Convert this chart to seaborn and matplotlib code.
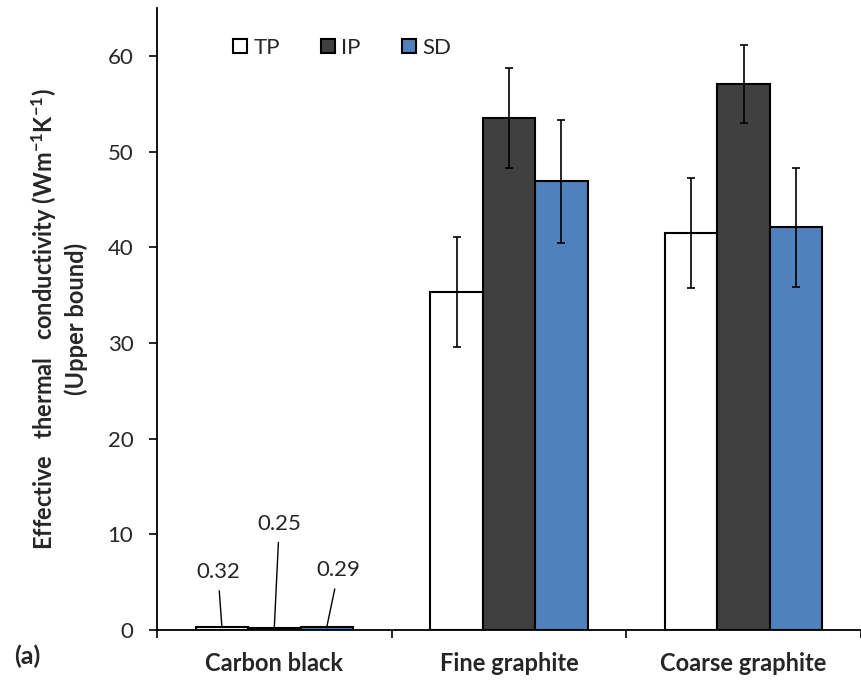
import matplotlib
matplotlib.use("Agg")
import matplotlib.pyplot as plt
from matplotlib.patches import Patch
import pandas as pd
import seaborn as sns

# Effective thermal conductivity (upper bound) per filler and method
categories = ["Carbon black", "Fine graphite", "Coarse graphite"]
methods = ["TP", "IP", "SD"]
tp_values = [0.32, 35.3, 41.5]
ip_values = [0.25, 53.5, 57.1]
sd_values = [0.29, 46.9, 42.1]
tp_errors = [0.0, 5.75, 5.8]
ip_errors = [0.0, 5.25, 4.1]
sd_errors = [0.0, 6.4, 6.2]
yticks = [0, 10, 20, 30, 40, 50, 60]
colors = {"TP": "#FFFFFF", "IP": "#404040", "SD": "#4F81BD"}

values = {"TP": tp_values, "IP": ip_values, "SD": sd_values}
errors = {"TP": tp_errors, "IP": ip_errors, "SD": sd_errors}

rows = []
for m in methods:
    for c, v in zip(categories, values[m]):
        rows.append({"category": c, "method": m, "value": v})
df = pd.DataFrame(rows)

sns.set_theme(style="ticks")
plt.rcParams["font.family"] = ["Lato", "DejaVu Sans"]
plt.rcParams["mathtext.fontset"] = "custom"
plt.rcParams["mathtext.rm"] = "Lato"
plt.rcParams["mathtext.bf"] = "Lato:bold"

fig = plt.figure(figsize=(8.61, 6.82), dpi=100)
ax = fig.add_axes([0.1823, 0.0762, 0.8177, 0.9118])

sns.barplot(data=df, x="category", y="value", hue="method",
            order=categories, hue_order=methods, palette=colors,
            saturation=1, width=0.67, edgecolor="black", linewidth=1.5,
            errorbar=None, legend=False, ax=ax)

# error bars on each bar, placed from the drawn patches
for m, container in zip(methods, ax.containers):
    for bar, err in zip(container, errors[m]):
        if err <= 0:
            continue
        xc = bar.get_x() + bar.get_width() / 2
        ax.errorbar(xc, bar.get_height(), yerr=err, fmt="none",
                    ecolor="black", elinewidth=1.2, capsize=2.8,
                    capthick=1.2, zorder=5)

# leader-line labels for the tiny carbon black values
offsets = {"TP": (-4, 55), "IP": (5, 104), "SD": (12, 57)}
for m, container in zip(methods, ax.containers):
    bar = container[0]
    xc = bar.get_x() + bar.get_width() / 2
    ax.annotate(f"{values[m][0]:.2f}", xy=(xc, bar.get_height()),
                xytext=offsets[m], textcoords="offset pixels",
                ha="center", va="center", fontsize=16,
                arrowprops=dict(arrowstyle="-", color="black", lw=1.0,
                                shrinkA=4, shrinkB=0))

ax.set_xlim(-0.5, 2.5)
ax.set_ylim(0, 65)
ax.set_yticks(yticks)
ax.tick_params(axis="y", labelsize=16, length=6, width=1.2, color="black",
               direction="out", pad=11)
ax.tick_params(axis="x", which="major", length=0, pad=16)
ax.set_xticks([-0.5, 0.5, 1.5, 2.5], minor=True)
ax.tick_params(axis="x", which="minor", length=6, width=1.2, color="black",
               direction="out")
for lbl in ax.get_xticklabels():
    lbl.set_fontweight("bold")
    lbl.set_fontsize(17)

ax.set_xlabel("")
ax.set_ylabel("Effective   thermal   conductivity (Wm$\\mathbf{^{-1}}$K$\\mathbf{^{-1}}$)\n(Upper bound)",
              fontsize=17, fontweight="bold", labelpad=14, linespacing=1.3)

sns.despine(ax=ax)
for s in ("left", "bottom"):
    ax.spines[s].set_linewidth(1.3)
    ax.spines[s].set_color("black")

handles = [Patch(facecolor=colors[m], edgecolor="black", linewidth=1.5, label=m)
           for m in methods]
ax.legend(handles=handles, loc="center left", bbox_to_anchor=(0.108, 0.936),
          ncol=3, frameon=False, fontsize=16, handlelength=0.62,
          handleheight=0.62, handletextpad=0.3, columnspacing=1.85,
          borderaxespad=0, borderpad=0)

fig.text(0.016, 1 - 656 / 682, "(a)", fontsize=18, fontweight="bold",
         ha="left", va="center")

fig.savefig("out.png", dpi=100)
